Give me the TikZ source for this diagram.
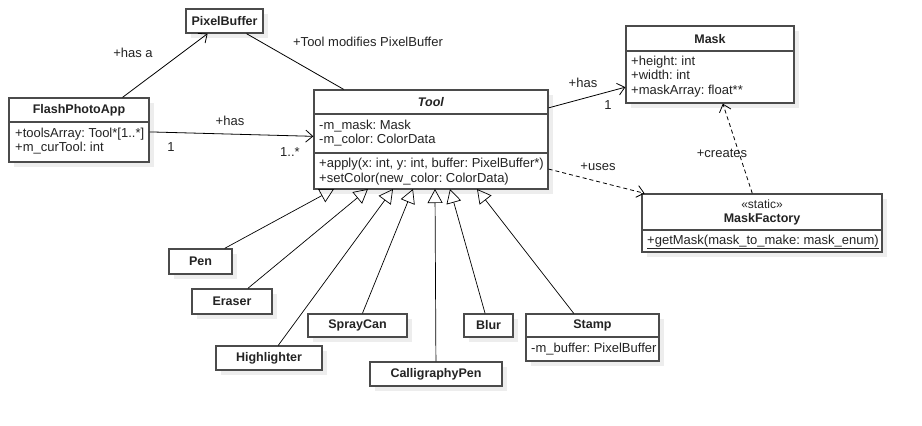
\documentclass[tikz,border=0pt]{standalone}
\usepackage{fontspec}
\setmainfont{Liberation Sans}
\usetikzlibrary{arrows.meta,shadows}

\definecolor{boxgray}{RGB}{75,75,75}
\definecolor{txtgray}{RGB}{35,35,35}
\frenchspacing

\begin{document}
\begin{tikzpicture}[x=1pt,y=-1pt,
    every node/.style={font=\fontsize{13}{14.5}\selectfont, text=txtgray, inner sep=0pt},
    cls/.style={draw=boxgray, line width=1.3pt, fill=white,
        drop shadow={shadow xshift=5pt,shadow yshift=-5pt,fill=black!7,opacity=1}},
    title/.style={font=\bfseries\fontsize{12.5}{14.5}\selectfont},
    attr/.style={anchor=west, align=left},
    sep/.style={draw=boxgray, line width=1.3pt},
    assoc/.style={-{Straight Barb[length=7pt,width=12pt]}, line width=0.8pt},
    dep/.style={assoc, dash pattern=on 4pt off 3pt},
    gen/.style={-{Triangle[open,length=14pt,width=15pt]}, line width=0.7pt}]
    \useasboundingbox (0,0) rectangle (922,426);

    \node[cls, title, minimum width=77, minimum height=24] (pixbuf) at (224.5,21) {PixelBuffer};

    \node[cls, minimum width=140, minimum height=64] (app) at (79,130) {};
    \node[title] (appT) at (79,110) {FlashPhotoApp};
    \draw[sep] (9,122) -- (149,122);
    \node[attr] (appA) at (15,141) {+toolsArray: Tool*[1..*]\\+m\_curTool: int};

    \node[cls, minimum width=234, minimum height=99] (tool) at (431,139.5) {};
    \node[title] (toolT) at (431,102) {\textit{Tool}};
    \draw[sep] (314,114) -- (548,114);
    \draw[sep] (314,153) -- (548,153);
    \node[attr] (toolA) at (319,133) {-m\_mask: Mask\\-m\_color: ColorData};
    \node[attr] (toolO) at (319,171.5) {+apply(x: int, y: int, buffer: PixelBuffer*)\\+setColor(new\_color: ColorData)};

    \node[cls, minimum width=168, minimum height=77] (mask) at (710,64.5) {};
    \node[title] (maskT) at (710,39) {Mask};
    \draw[sep] (626,51) -- (794,51);
    \node[attr] (maskA) at (631,76.5) {+height: int\\+width: int\\+maskArray: float**};

    \node[cls, minimum width=240, minimum height=58] (factory) at (762,223) {};
    \node[font=\fontsize{12}{13}\selectfont] (factoryS) at (762,204) {«static»};
    \node[title] (factoryT) at (762,219) {MaskFactory};
    \draw[sep] (642,230) -- (882,230);
    \node[attr] (factoryO) at (647,242) {\underline{+getMask(mask\_to\_make: mask\_enum)}};

    \node[cls, title, minimum width=63, minimum height=25] (pen) at (200.5,261.5) {Pen};
    \node[cls, title, minimum width=80, minimum height=25] (eraser) at (232,301.5) {Eraser};
    \node[cls, title, minimum width=106, minimum height=24] (hilite) at (269,358) {Highlighter};
    \node[cls, title, minimum width=99, minimum height=23] (spray) at (357.5,325.5) {SprayCan};
    \node[cls, title, minimum width=132, minimum height=24] (calli) at (436,374) {CalligraphyPen};
    \node[cls, title, minimum width=49, minimum height=23] (blur) at (488.5,325.5) {Blur};
    \node[cls, minimum width=133, minimum height=47] (stamp) at (592.5,337.5) {};
    \node[title] (stampT) at (592.5,325.5) {Stamp};
    \draw[sep] (526,337) -- (659,337);
    \node[attr] (stampA) at (531,349) {-m\_buffer: PixelBuffer};

    \draw[assoc] (app) -- (pixbuf);
    \draw[line width=0.8pt] (pixbuf) -- (tool);
    \draw[assoc] (app) -- (tool);
    \draw[assoc] (tool) -- (mask);
    \draw[dep] (tool) -- (factory);
    \draw[dep] (factory) -- (mask);

    \foreach \c/\x in {pen/334,eraser/368,hilite/393,spray/413,calli/435,blur/450,stamp/477} {
        \coordinate (g-\c) at (\x,189);
        \draw[gen] (\c) -- (g-\c);
    }

    \node (lHasA) at (133,53) {+has a};
    \node (lMod) at (368,42) {+Tool modifies PixelBuffer};
    \node (lHas) at (230,121) {+has};
    \node (lOne) at (171,147) {1};
    \node (lMany) at (290,152) {1..*};
    \node (lHasM) at (583,83) {+has};
    \node (lOneM) at (608,105) {1};
    \node (lUses) at (598,167) {+uses};
    \node (lCreates) at (722,153) {+creates};
\end{tikzpicture}
\end{document}
